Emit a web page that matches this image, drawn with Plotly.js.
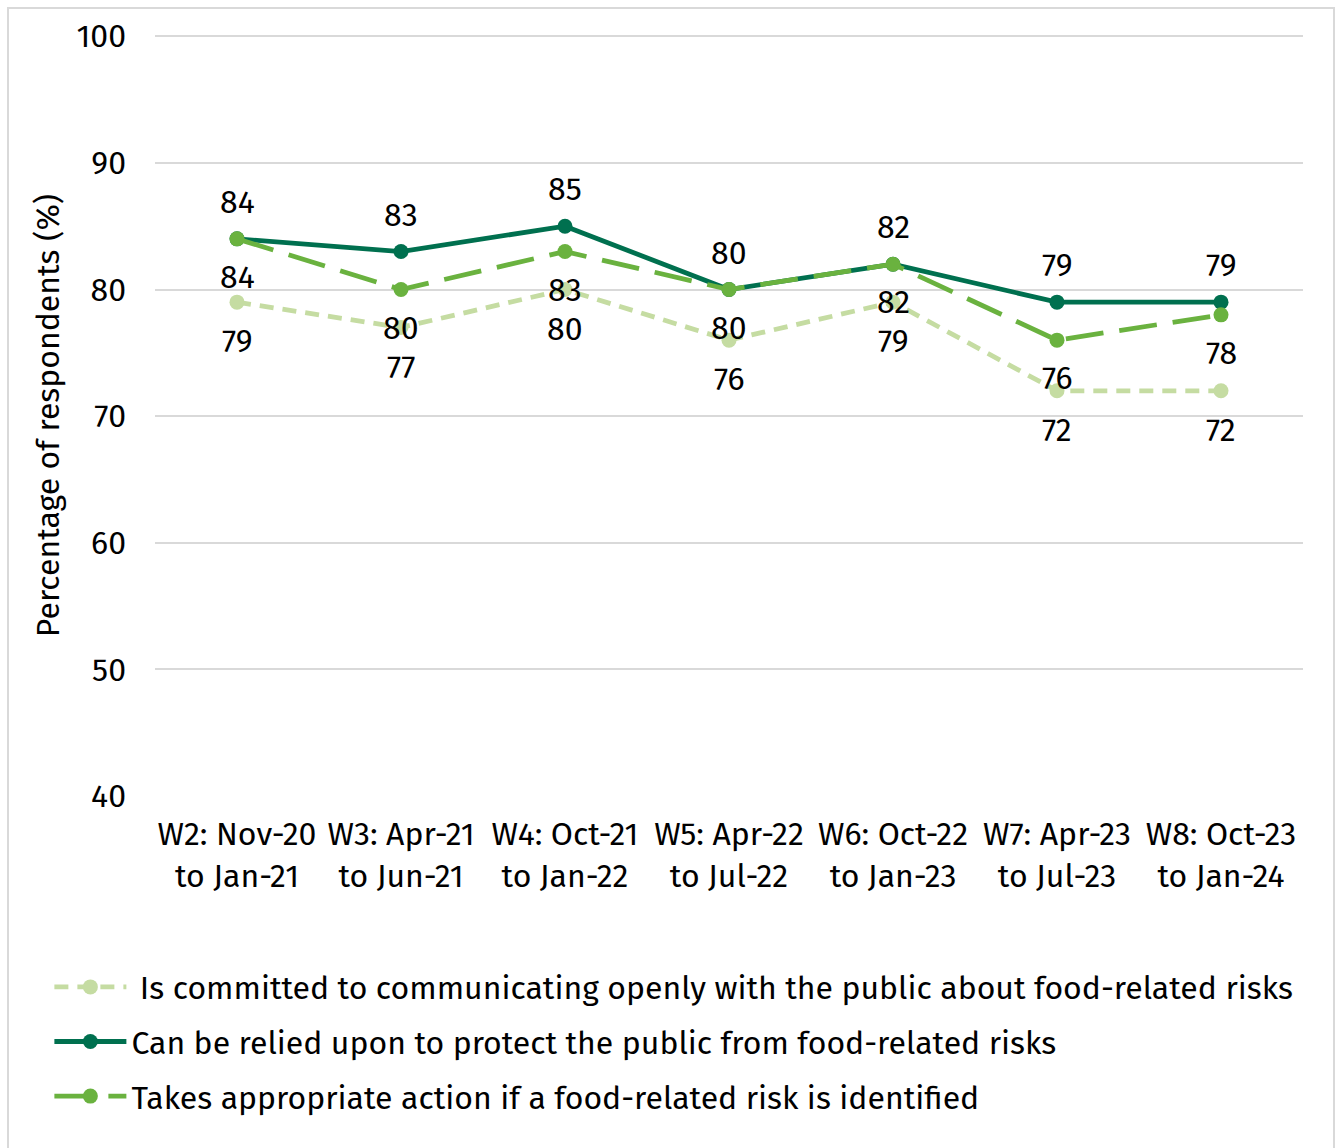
<!DOCTYPE html>
<html>
<head>
<meta charset="utf-8">
<script src="https://cdn.plot.ly/plotly-3.0.1.min.js"></script>
<style>
  html, body { margin: 0; padding: 0; background: #fff; }
  #wrap { position: relative; width: 1338px; height: 1148px; overflow: hidden; }
  #chart { width: 1338px; height: 1148px; }
  #frame { position: absolute; left: 7px; top: 7px; width: 1324px; height: 1170px;
           border: 2px solid #d9d9d9; pointer-events: none; }
</style>
</head>
<body>
<div id="wrap">
  <div id="chart"></div>
  <div id="frame"></div>
</div>
<script>
// Survey waves (x-axis categories)
const waves = [
  "W2: Nov-20<br>to Jan-21",
  "W3: Apr-21<br>to Jun-21",
  "W4: Oct-21<br>to Jan-22",
  "W5: Apr-22<br>to Jul-22",
  "W6: Oct-22<br>to Jan-23",
  "W7: Apr-23<br>to Jul-23",
  "W8: Oct-23<br>to Jan-24"
];

// Percentage of respondents agreeing with each statement
const communicatesOpenly = [79, 77, 80, 76, 79, 72, 72];
const protectsPublic     = [84, 83, 85, 80, 82, 79, 79];
const takesAction        = [84, 80, 83, 80, 82, 76, 78];

const seriesNames = [
  " Is committed to communicating openly with the public about food-related risks",
  "Can be relied upon to protect the public from food-related risks",
  "Takes appropriate action if a food-related risk is identified"
];

const yTicks = [40, 50, 60, 70, 80, 90, 100];

const FONT = "'Fira Sans', 'Noto Sans', sans-serif";
const FS = 32;
const colLight = "#c5dca2";
const colDark  = "#00704f";
const colMid   = "#6ab23f";

function lineTrace(y, name, color, dash, group) {
  return {
    x: waves, y: y, name: name, type: "scatter", mode: "lines+markers",
    line: { color: color, width: 4.8, dash: dash },
    marker: { color: color, size: 15 },
    legendgroup: group, hoverinfo: "skip"
  };
}

const traces = [
  lineTrace(communicatesOpenly, seriesNames[0], colLight, "14px,9px", "a"),
  lineTrace(protectsPublic,     seriesNames[1], colDark,  "solid", "b"),
  lineTrace(takesAction,        seriesNames[2], colMid,   "38px,16px", "c")
];

// Value labels: dark series above its points, the other two below
function labels(y, shift) {
  return y.map((v, i) => ({
    x: waves[i], y: v, xref: "x", yref: "y", text: String(v),
    showarrow: false, yshift: shift,
    font: { family: FONT, size: FS, color: "#000" }
  }));
}
const annotations = [].concat(
  labels(communicatesOpenly, -39),
  labels(protectsPublic, 37),
  labels(takesAction, -38)
);

const layout = {
  width: 1338, height: 1148,
  margin: { l: 155, r: 35, t: 35, b: 352 },
  paper_bgcolor: "#fff", plot_bgcolor: "#fff",
  font: { family: FONT, size: FS, color: "#000" },
  showlegend: true,
  legend: {
    orientation: "v", x: -0.092, xanchor: "left", y: -0.215, yanchor: "top",
    traceorder: "grouped", tracegroupgap: 10, itemwidth: 72,
    font: { family: FONT, size: FS, color: "#000" },
    bgcolor: "rgba(0,0,0,0)"
  },
  xaxis: {
    type: "category", range: [-0.5, 6.5],
    showgrid: false, showline: false, zeroline: false,
    ticks: "", tickfont: { family: FONT, size: FS, color: "#000" },
    ticklabelstandoff: 16
  },
  yaxis: {
    range: [40, 100.1], tickvals: yTicks, ticktext: yTicks.map(String),
    showgrid: true, gridcolor: "#d9d9d9", gridwidth: 2,
    zeroline: false, showline: false, ticks: "",
    tickfont: { family: FONT, size: FS, color: "#000" },
    ticklabelstandoff: 28,
    title: { text: "Percentage of respondents (%)", standoff: 7,
             font: { family: FONT, size: FS, color: "#000" } }
  },
  annotations: annotations
};

Plotly.newPlot("chart", traces, layout, { staticPlot: true, displayModeBar: false });
</script>
</body>
</html>
